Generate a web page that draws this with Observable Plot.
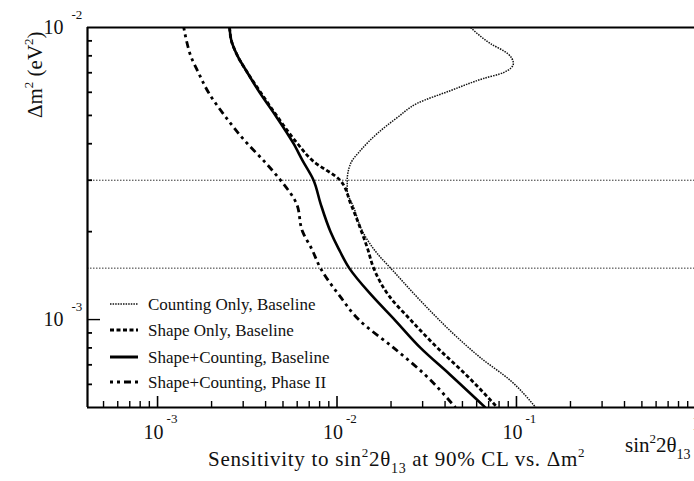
<!DOCTYPE html>
<html><head><meta charset="utf-8">
<script src="https://cdn.jsdelivr.net/npm/d3@7"></script>
<script src="https://cdn.jsdelivr.net/npm/@observablehq/plot@0.6"></script>
<style>
html,body{margin:0;padding:0;background:#fff;}
#chart{width:694px;height:481px;overflow:hidden;position:relative;}
</style></head><body><div id="chart"></div>
<script>
// ---- data ----
const seriesNames = ["Counting Only, Baseline", "Shape Only, Baseline", "Shape+Counting, Baseline", "Shape+Counting, Phase II"];

const countingDm2 = [1e-2, 8.81e-3, 8.15e-3, 7.53e-3, 7.01e-3, 6.69e-3, 6.08e-3, 5.50e-3, 4.92e-3, 4.34e-3, 3.79e-3, 3.42e-3, 3.0e-3, 2.77e-3, 2.42e-3, 2.0e-3, 1.68e-3, 1.5e-3, 1.16e-3, 8.68e-4, 7.41e-4, 6.18e-4, 5e-4];
const countingSin = [5.55e-2, 7.16e-2, 8.91e-2, 9.61e-2, 8.48e-2, 6.55e-2, 4.29e-2, 2.80e-2, 2.17e-2, 1.68e-2, 1.35e-2, 1.19e-2, 1.14e-2, 1.14e-2, 1.24e-2, 1.39e-2, 1.68e-2, 1.99e-2, 2.92e-2, 4.69e-2, 6.29e-2, 9.27e-2, 1.28e-1];

const gridDm2 = [1e-2, 9e-3, 8e-3, 7e-3, 6e-3, 5e-3, 4e-3, 3.5e-3, 3e-3, 2.5e-3, 2e-3, 1.75e-3, 1.5e-3, 1.2e-3, 1e-3, 8e-4, 6.5e-4, 5e-4];
const shapeSin  = [2.52e-3, 2.58e-3, 2.79e-3, 3.17e-3, 3.75e-3, 4.60e-3, 6.03e-3, 7.31e-3, 1.04e-2, 1.19e-2, 1.37e-2, 1.48e-2, 1.60e-2, 1.96e-2, 2.56e-2, 3.63e-2, 5.20e-2, 7.83e-2];
const combinedSin = [2.52e-3, 2.58e-3, 2.79e-3, 3.17e-3, 3.70e-3, 4.54e-3, 5.73e-3, 6.43e-3, 7.40e-3, 8.09e-3, 9.20e-3, 1.02e-2, 1.17e-2, 1.58e-2, 2.09e-2, 2.92e-2, 4.24e-2, 6.71e-2];
const phase2Sin = [1.40e-3, 1.45e-3, 1.53e-3, 1.69e-3, 1.92e-3, 2.36e-3, 3.17e-3, 3.90e-3, 4.84e-3, 5.94e-3, 6.43e-3, 7.21e-3, 8.09e-3, 1.04e-2, 1.32e-2, 2.07e-2, 3.07e-2, 4.57e-2];

const refLinesDm2 = [3e-3, 1.5e-3];

const xMajorTicks = [1e-3, 1e-2, 1e-1];
const xMajorExp = ["-3", "-2", "-1"];
const xEdgeTick = [1];
const xMinorTicks = [5e-4,6e-4,7e-4,8e-4,9e-4, 2e-3,3e-3,4e-3,5e-3,6e-3,7e-3,8e-3,9e-3, 2e-2,3e-2,4e-2,5e-2,6e-2,7e-2,8e-2,9e-2, 2e-1,3e-1,4e-1,5e-1,6e-1,7e-1,8e-1,9e-1];
const yMajorTicks = [1e-2, 1e-3];
const yMajorExp = ["-2", "-3"];
const yMinorTicks = [6e-4,7e-4,8e-4,9e-4, 2e-3,3e-3,4e-3,5e-3,6e-3,7e-3,8e-3,9e-3];

const xDomain = [4.07e-4, 0.982];
const yDomain = [5e-4, 1e-2];

// ---- build table ----
const rows = [];
countingDm2.forEach((d, i) => rows.push({series: seriesNames[0], dm2: d, s: countingSin[i]}));
gridDm2.forEach((d, i) => rows.push({series: seriesNames[1], dm2: d, s: shapeSin[i]}));
gridDm2.forEach((d, i) => rows.push({series: seriesNames[2], dm2: d, s: combinedSin[i]}));
gridDm2.forEach((d, i) => rows.push({series: seriesNames[3], dm2: d, s: phase2Sin[i]}));

const styles = {
  [seriesNames[0]]: {strokeWidth: 1.5, dash: "1.5,1.1", stroke: "#111"},
  [seriesNames[1]]: {strokeWidth: 2.8, dash: "4,2.5", stroke: "#000"},
  [seriesNames[2]]: {strokeWidth: 2.6, dash: null, stroke: "#000"},
  [seriesNames[3]]: {strokeWidth: 2.8, dash: "3,4,3,4,7,4", stroke: "#000"}
};

const W = 694, H = 481, mL = 87, mR = 0, mT = 27, mB = 74;
const innerW = W - mL - mR, innerH = H - mT - mB;
const font = "'Liberation Serif', 'Times New Roman', serif";

const lineMarks = seriesNames.map(name => Plot.line(rows.filter(r => r.series === name), {
  x: "s", y: "dm2", curve: "monotone-y",
  stroke: styles[name].stroke, strokeWidth: styles[name].strokeWidth,
  strokeDasharray: styles[name].dash, strokeLinecap: "butt", clip: true
}));

const plot = Plot.plot({
  width: W, height: H,
  marginLeft: mL, marginRight: mR, marginTop: mT, marginBottom: mB,
  x: {type: "log", domain: xDomain, axis: null},
  y: {type: "log", domain: yDomain, axis: null},
  style: {fontFamily: font, background: "white", color: "black"},
  marks: [
    Plot.ruleY(refLinesDm2, {stroke: "#333", strokeWidth: 1, strokeDasharray: "1.5,1.5"}),
    ...lineMarks,
    Plot.tickX(xMinorTicks, {x: d => d, insetTop: innerH - 6, stroke: "black", strokeWidth: 1.4}),
    Plot.tickX(xMajorTicks, {x: d => d, insetTop: innerH - 11, stroke: "black", strokeWidth: 1.6}),
    Plot.tickY(yMinorTicks, {y: d => d, insetRight: innerW - 5, stroke: "black", strokeWidth: 1.8}),
    Plot.tickY([1e-3], {y: d => d, insetRight: innerW - 13, stroke: "black", strokeWidth: 1.4}),
    Plot.ruleY([yDomain[1]], {stroke: "black", strokeWidth: 2.2}),
    Plot.ruleY([yDomain[0]], {stroke: "black", strokeWidth: 2.2}),
    Plot.ruleX([xDomain[0]], {stroke: "black", strokeWidth: 2.2}),
    Plot.text(xMajorTicks, {x: d => d, frameAnchor: "bottom", text: () => "10", dx: -4, dy: 31, fontSize: 20, lineAnchor: "bottom", textAnchor: "middle", fill: "#111"}),
    Plot.text(xMajorTicks, {x: d => d, frameAnchor: "bottom", text: (d, i) => xMajorExp[i], dx: 9, dy: 15, fontSize: 13, lineAnchor: "bottom", textAnchor: "start", fill: "#111"}),
    Plot.text(xEdgeTick, {x: d => d, frameAnchor: "bottom", text: () => "10", dx: -4, dy: 22, fontSize: 20, lineAnchor: "bottom", textAnchor: "start", fill: "#111"}),
    Plot.text(yMajorTicks, {y: d => d, frameAnchor: "left", text: () => "10", dx: -24, dy: 6, fontSize: 20, lineAnchor: "bottom", textAnchor: "end", fill: "#111"}),
    Plot.text(yMajorTicks, {y: d => d, frameAnchor: "left", text: (d, i) => yMajorExp[i], dx: -16, dy: -9, fontSize: 13, lineAnchor: "bottom", textAnchor: "start", fill: "#111"})
  ]
});
document.getElementById("chart").appendChild(plot);

// ---- titles and legend ----
const svg = d3.select(plot);
function rich(sel, parts) {
  parts.forEach(p => {
    const t = sel.append("tspan").text(p.t);
    if (p.sup) t.attr("font-size", 13).attr("dy", -9);
    if (p.sub) t.attr("font-size", 14).attr("dy", 7);
    if (p.reset) t.attr("dy", p.reset);
  });
}
const xt = svg.append("text").attr("x", 208).attr("y", 466).attr("text-anchor", "start")
  .attr("font-family", font).attr("font-size", 21).attr("letter-spacing", 0.7).attr("fill", "#111");
rich(xt, [{t: "Sensitivity to sin"}, {t: "2", sup: true}, {t: "2θ", reset: 9}, {t: "13", sub: true}, {t: " at 90% CL vs. Δm", reset: -7}, {t: "2", sup: true}]);

const rt = svg.append("text").attr("x", 625).attr("y", 452).attr("text-anchor", "start")
  .attr("font-family", font).attr("font-size", 21).attr("fill", "#111");
rich(rt, [{t: "sin"}, {t: "2", sup: true}, {t: "2θ", reset: 9}, {t: "13", sub: true}]);

const yt = svg.append("text").attr("transform", "translate(42,118) rotate(-90)").attr("text-anchor", "start")
  .attr("font-family", font).attr("font-size", 21).attr("fill", "#111");
rich(yt, [{t: "Δm"}, {t: "2", sup: true}, {t: " (eV", reset: 9}, {t: "2", sup: true}, {t: ")", reset: 9}]);

const legend = svg.append("g").attr("font-family", font).attr("font-size", 17).attr("fill", "#111").attr("text-anchor", "start");
const legendY = [304, 330, 357, 382];
seriesNames.forEach((name, i) => {
  const st = styles[name];
  legend.append("line").attr("x1", 110).attr("x2", 138).attr("y1", legendY[i]).attr("y2", legendY[i])
    .attr("stroke", st.stroke).attr("stroke-width", i === 0 ? 1.6 : 3).attr("stroke-dasharray", st.dash);
  legend.append("text").attr("x", 148).attr("y", legendY[i] + 6).text(name);
});
</script></body></html>
